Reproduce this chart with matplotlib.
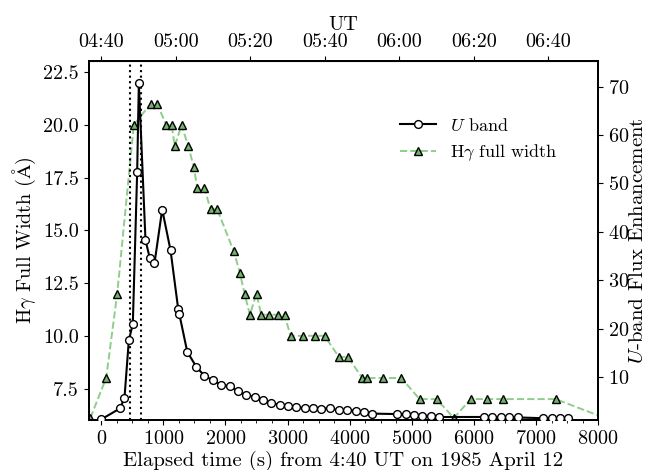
import numpy as np
import matplotlib
matplotlib.use("Agg")
import matplotlib.pyplot as plt
from matplotlib.ticker import MultipleLocator, FormatStrFormatter

plt.rcParams["font.family"] = "serif"
plt.rcParams["font.serif"] = ["cmr10"]
plt.rcParams["mathtext.fontset"] = "cm"
plt.rcParams["axes.formatter.use_mathtext"] = True
plt.rcParams["font.size"] = 14.5

# U band flux enhancement (right axis)
t_u = [0, 306, 375, 445, 509, 579, 606, 713, 783, 858, 982, 1116, 1240, 1256,
       1385, 1530, 1663, 1797, 1932, 2066, 2200, 2335, 2469, 2603, 2737, 2871,
       3005, 3140, 3274, 3408, 3543, 3677, 3827, 3961, 4095, 4229, 4364, 4766,
       4900, 5034, 5169, 5303, 5437, 6161, 6296, 6430, 6564, 6709, 7117, 7251,
       7385, 7520]
u_flux = [1.2, 3.5, 5.7, 17.6, 20.9, 52.3, 70.7, 38.3, 34.5, 33.5, 44.6, 36.2,
          24.0, 23.1, 15.2, 12.1, 10.2, 9.3, 8.3, 8.1, 7.0, 6.2, 5.9, 5.3, 4.6,
          4.2, 3.9, 3.8, 3.5, 3.5, 3.4, 3.5, 3.1, 3.1, 3.0, 2.7, 2.4, 2.3, 2.3,
          2.1, 2.0, 1.9, 1.7, 1.7, 1.6, 1.6, 1.6, 1.6, 1.45, 1.45, 1.45, 1.4]

# H-gamma full width (left axis)
t_hg = [-175, 80, 258, 525, 794, 902, 1047, 1132, 1186, 1293, 1401, 1491, 1546,
        1663, 1760, 1868, 2135, 2232, 2308, 2393, 2501, 2576, 2699, 2850, 2952,
        3048, 3241, 3435, 3596, 3826, 3971, 4203, 4272, 4541, 4831, 5126, 5399,
        5678, 5947, 6216, 6462, 7316, 8200]
hg_width = [6.1, 8.0, 12.0, 20.0, 21.0, 21.0, 20.0, 20.0, 19.0, 20.0, 19.0,
            18.0, 17.0, 17.0, 16.0, 16.0, 14.0, 13.0, 12.0, 11.0, 12.0, 11.0,
            11.0, 11.0, 11.0, 10.0, 10.0, 10.0, 10.0, 9.0, 9.0, 8.0, 8.0, 8.0,
            8.0, 7.0, 7.0, 6.1, 7.0, 7.0, 7.0, 7.0, 6.0]

# spectra exposure window
t_marks = [460, 640]

ut_ticks = [0, 1200, 2400, 3600, 4800, 6000, 7200]
ut_labels = ["04:40", "05:00", "05:20", "05:40", "06:00", "06:20", "06:40"]

fig, ax = plt.subplots(figsize=(6.48, 4.7), dpi=100)
fig.subplots_adjust(left=0.137, right=0.923, bottom=0.106, top=0.871)
ax2 = ax.twinx()

l2, = ax.plot(t_hg, hg_width, ls="--", color="#8fce8a", lw=1.4, marker="^",
              ms=6, mfc="#72b46b", mec="black", mew=1.0, zorder=2)
l1, = ax2.plot(t_u, u_flux, "-", color="black", lw=1.5, marker="o", ms=5.6,
               mfc="white", mec="black", mew=1.0, zorder=3)
for tm in t_marks:
    ax.axvline(tm, color="black", ls=":", lw=1.5)

ax.set_xlim(-200, 8000)
ax.set_ylim(6.0, 23.05)
ax2.set_ylim(1.04, 75.4)
ax.xaxis.set_major_locator(MultipleLocator(1000))
ax.xaxis.set_minor_locator(MultipleLocator(250))
ax.yaxis.set_major_locator(MultipleLocator(2.5))
ax.yaxis.set_major_formatter(FormatStrFormatter("%.1f"))
ax2.yaxis.set_major_locator(MultipleLocator(10))

ax.set_xlabel("Elapsed time (s) from 4:40 UT on 1985 April 12", fontsize=15,
              labelpad=2)
ax.set_ylabel(r"H$\gamma$ Full Width ($\mathrm{\AA}$)", fontsize=14.5)
ax2.set_ylabel(r"$U$-band Flux Enhancement", fontsize=15, labelpad=0)

top = ax.secondary_xaxis("top")
top.set_xticks(ut_ticks)
top.set_xticklabels(ut_labels)
top.set_xlabel("UT", labelpad=2)

for a in (ax, ax2):
    for s in a.spines.values():
        s.set_linewidth(1.3)

ax.legend([l1, l2], [r"$U$ band", r"H$\gamma$ full width"], loc="upper right",
          bbox_to_anchor=(0.952, 0.889), frameon=False, fontsize=13)

plt.savefig("out.png", dpi=100)
